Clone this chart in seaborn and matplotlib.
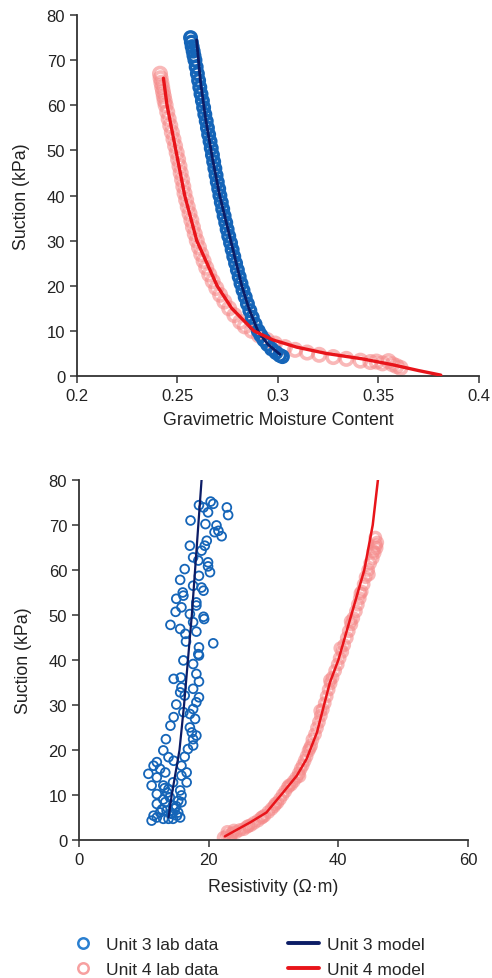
import matplotlib
matplotlib.use("Agg")
import matplotlib.pyplot as plt
import seaborn as sns
from matplotlib.lines import Line2D

# --- top panel: suction vs gravimetric moisture content ---
u3_lab_s = [75.0, 74.0, 73.0, 72.0, 71.0, 70.0, 68.5, 67.0, 65.5, 64.0,
            62.5, 61.0, 59.5, 58.0, 56.5, 55.0, 53.5, 52.0, 50.5, 49.0,
            47.5, 46.0, 44.5, 43.0, 41.5, 40.0, 38.5, 37.0, 35.5, 34.0,
            32.5, 31.0, 29.5, 28.0, 26.5, 25.0, 23.5, 22.0, 20.5, 19.0,
            17.5, 16.0, 14.5, 13.0, 11.5, 10.0, 9.0, 8.0, 7.0, 6.0,
            5.2, 4.6, 4.3]
u3_lab_w = [0.2565, 0.2569, 0.2573, 0.2578, 0.2582, 0.2587, 0.2593, 0.2599, 0.2605, 0.2611,
            0.2617, 0.2624, 0.2630, 0.2636, 0.2643, 0.2649, 0.2655, 0.2662, 0.2668, 0.2674,
            0.2680, 0.2686, 0.2692, 0.2698, 0.2705, 0.2711, 0.2718, 0.2725, 0.2732, 0.2740,
            0.2747, 0.2755, 0.2764, 0.2772, 0.2780, 0.2789, 0.2798, 0.2807, 0.2816, 0.2826,
            0.2837, 0.2848, 0.2860, 0.2872, 0.2886, 0.2902, 0.2915, 0.2930, 0.2948, 0.2968,
            0.2990, 0.3008, 0.3022]

u4_lab_s = [67.0, 66.0, 65.0, 64.0, 63.0, 62.0, 61.0, 60.0, 58.5, 57.0,
            55.5, 54.0, 52.5, 51.0, 49.5, 48.0, 46.5, 45.0, 43.5, 42.0,
            40.5, 39.0, 37.5, 36.0, 34.5, 33.0, 31.5, 30.0, 28.5, 27.0,
            25.5, 24.0, 22.5, 21.0, 19.5, 18.0, 16.5, 15.0, 13.5, 12.0,
            11.0, 10.0, 9.0, 8.0, 7.2, 6.4, 5.8, 5.2, 4.7, 4.2,
            3.8, 3.4, 3.1, 3.2, 2.8, 3.3, 2.6, 2.2, 1.8]
u4_lab_w = [0.2413, 0.2416, 0.2420, 0.2424, 0.2428, 0.2432, 0.2436, 0.2441, 0.2449, 0.2456,
            0.2464, 0.2472, 0.2480, 0.2488, 0.2496, 0.2503, 0.2510, 0.2516, 0.2523, 0.2529,
            0.2535, 0.2543, 0.2551, 0.2560, 0.2569, 0.2577, 0.2586, 0.2596, 0.2607, 0.2618,
            0.2630, 0.2643, 0.2658, 0.2675, 0.2693, 0.2712, 0.2733, 0.2757, 0.2783, 0.2812,
            0.2835, 0.2870, 0.2905, 0.2945, 0.2985, 0.3035, 0.3085, 0.3145, 0.3205, 0.3275,
            0.3340, 0.3410, 0.3460, 0.3490, 0.3520, 0.3550, 0.3570, 0.3590, 0.3610]

u3_mod_w = [0.2595, 0.2615, 0.2640, 0.2675, 0.2710, 0.2765, 0.2820, 0.2855, 0.2900, 0.2950, 0.3010]
u3_mod_s = [74.5, 65.0, 57.0, 48.0, 40.0, 30.0, 20.0, 15.0, 10.0, 7.0, 4.8]

u4_mod_w = [0.2430, 0.2448, 0.2492, 0.2536, 0.2596, 0.2697, 0.2770, 0.2880, 0.2975, 0.3093,
            0.3240, 0.3420, 0.3570, 0.3700, 0.3810]
u4_mod_s = [66.0, 60.0, 50.0, 40.0, 30.0, 20.0, 15.0, 10.0, 8.0, 6.4, 5.0, 3.8, 2.5, 1.2, 0.2]

# --- bottom panel: suction vs resistivity ---
u3_lab_r = [22.8, 23.0, 20.3, 20.7, 18.5, 19.2, 19.9, 17.2, 19.5, 21.2,
            21.5, 20.9, 22.0, 19.7, 19.4, 17.1, 18.9, 17.6, 18.4, 19.9,
            19.9, 20.2, 16.3, 18.5, 15.6, 17.6, 18.9, 19.2, 16.0, 16.1,
            15.0, 18.1, 15.8, 18.1, 14.9, 17.1, 19.2, 19.3, 17.6, 14.1,
            15.6, 18.1, 16.4, 20.7, 16.5, 18.5, 18.5, 18.4, 16.1, 17.6,
            18.1, 14.6, 15.7, 18.5, 15.8, 17.6, 15.6, 16.3, 18.5, 15.0,
            18.1, 17.6, 16.1, 17.1, 17.9, 14.6, 14.1, 17.1, 17.4, 18.1,
            17.6, 13.4, 17.6, 16.8, 16.3, 13.0, 13.8, 14.6, 12.0, 15.8,
            11.5, 12.5, 13.3, 10.7, 16.6, 16.6, 15.8, 12.0, 11.2, 13.0,
            14.5, 13.8, 12.0, 15.6, 15.8, 15.3, 12.0, 13.3, 14.5, 15.8,
            12.5, 13.5, 14.3, 15.3, 15.1, 11.5, 12.0, 11.2, 13.0, 13.8,
            15.6, 14.5, 13.0, 14.0, 14.8, 12.8, 13.6, 14.2, 15.0, 13.2]
u3_lab_s2 = [73.9, 72.2, 75.2, 74.7, 74.4, 73.9, 72.8, 71.0, 70.2, 69.9,
             68.7, 68.4, 67.5, 66.5, 65.4, 65.4, 64.3, 62.8, 62.1, 61.7,
             60.8, 59.5, 60.2, 58.7, 57.8, 56.5, 56.1, 55.4, 55.0, 54.3,
             53.6, 52.8, 51.7, 52.1, 50.7, 50.2, 49.6, 49.1, 48.4, 47.8,
             46.9, 46.3, 45.8, 43.7, 44.1, 42.8, 41.0, 41.3, 39.9, 39.1,
             36.9, 35.8, 36.1, 35.2, 33.9, 33.6, 32.8, 32.1, 31.7, 30.1,
             30.6, 29.1, 28.4, 28.0, 26.9, 27.3, 25.4, 25.0, 23.9, 23.2,
             22.4, 22.4, 21.0, 20.2, 18.5, 19.9, 18.4, 17.6, 17.3, 16.5,
             16.5, 15.8, 15.0, 14.7, 15.0, 12.8, 14.3, 13.9, 12.1, 12.1,
             12.8, 11.3, 10.2, 11.0, 9.9, 8.7, 8.0, 8.4, 7.6, 8.4,
             6.1, 6.5, 5.8, 6.1, 5.4, 5.4, 5.0, 4.3, 4.7, 4.7,
             5.0, 4.7, 9.0, 9.5, 7.0, 6.8, 10.5, 6.0, 7.5, 11.5]

u4_lab_r = [22.3, 22.8, 23.3, 23.6, 22.9, 24.2, 24.8, 25.4, 25.9, 26.5,
            27.0, 27.6, 28.1, 28.6, 29.2, 29.7, 30.1, 30.6, 31.0, 31.4,
            31.8, 32.2, 32.7, 33.1, 33.5, 33.9, 34.2, 34.5, 34.8, 35.1,
            35.4, 35.8, 36.0, 36.4, 36.7, 37.0, 37.3, 37.6, 37.9, 38.2,
            38.5, 38.8, 39.1, 39.5, 39.9, 40.2, 40.6, 40.9, 41.3, 41.6,
            42.0, 42.3, 42.7, 43.0, 43.3, 43.6, 43.9, 44.2, 44.6, 44.9,
            45.3, 45.6, 45.9, 46.0, 45.7, 45.8, 45.4, 44.7, 43.4, 41.9,
            40.3, 38.7, 37.2, 35.6, 34.0, 32.4, 30.3, 28.3, 26.1, 23.9]
u4_lab_s2 = [0.5, 0.9, 0.6, 1.4, 1.8, 1.7, 2.2, 2.4, 2.9, 3.3,
             3.8, 4.3, 4.9, 5.4, 6.2, 6.9, 7.5, 8.3, 9.1, 10.0,
             10.8, 11.7, 12.3, 13.0, 13.8, 14.8, 15.8, 16.6, 17.6, 18.6,
             19.8, 21.0, 22.3, 23.5, 24.9, 26.2, 27.6, 29.0, 30.4, 31.9,
             33.4, 34.8, 36.1, 37.6, 39.0, 40.4, 41.8, 43.3, 44.9, 46.4,
             47.9, 49.3, 50.8, 52.3, 53.7, 55.2, 56.8, 58.4, 60.0, 61.5,
             62.6, 63.8, 64.9, 66.1, 67.2, 65.5, 64.2, 59.0, 54.8, 48.6,
             42.6, 35.5, 28.7, 20.4, 14.2, 12.1, 8.0, 5.1, 3.1, 2.1]

u3_mod_r = [13.8, 14.3, 15.5, 16.2, 16.8, 17.4, 17.9, 18.4, 18.9]
u3_mod_s2 = [5.0, 10.0, 20.0, 30.0, 40.0, 50.0, 60.0, 70.0, 80.0]

u4_mod_r = [22.5, 24.0, 26.4, 28.9, 31.5, 33.6, 35.1, 36.7, 37.9, 38.7, 40.0, 42.0, 44.0, 45.3, 46.1]
u4_mod_s2 = [0.8, 2.0, 3.9, 6.1, 10.6, 14.3, 18.0, 23.9, 30.6, 35.0, 40.0, 50.0, 60.0, 70.0, 80.0]

blue_pt = "#1565b8"
navy = "#0c1d66"
pink = "#f58a8a"
red = "#e8141a"

sns.set_style("ticks")
plt.rcParams['font.family'] = ['Liberation Sans', 'DejaVu Sans']
plt.rcParams['axes.edgecolor'] = '#333333'
plt.rcParams['xtick.color'] = '#333333'
plt.rcParams['ytick.color'] = '#333333'

fig = plt.figure(figsize=(4.92, 9.79), dpi=100)
ax1 = fig.add_axes([0.1565, 0.6149, 0.817, 0.3687])
ax2 = fig.add_axes([0.1606, 0.141, 0.7907, 0.3677])

# top panel
sns.scatterplot(x=u4_lab_w, y=u4_lab_s, ax=ax1, s=80, marker='o', facecolor='none',
                edgecolor=pink, linewidth=2.6, alpha=0.6, zorder=2)
sns.scatterplot(x=u3_lab_w, y=u3_lab_s, ax=ax1, s=70, marker='o', facecolor='none',
                edgecolor=blue_pt, linewidth=2.4, zorder=3)
sns.lineplot(x=u3_mod_w, y=u3_mod_s, ax=ax1, sort=False, estimator=None, color=navy, linewidth=2, zorder=4)
sns.lineplot(x=u4_mod_w, y=u4_mod_s, ax=ax1, sort=False, estimator=None, color=red, linewidth=2.4, zorder=5)

ax1.set_xlim(0.2, 0.4)
ax1.set_ylim(0, 80)
ax1.set_xticks([0.2, 0.25, 0.3, 0.35, 0.4])
ax1.set_xticklabels(["0.2", "0.25", "0.3", "0.35", "0.4"])
ax1.set_yticks(range(0, 81, 10))
ax1.set_xlabel("Gravimetric Moisture Content", fontsize=12.8, color='#222222', labelpad=6)
ax1.set_ylabel("Suction (kPa)", fontsize=12.8, color='#222222', labelpad=12)

# bottom panel
sns.scatterplot(x=u4_lab_r, y=u4_lab_s2, ax=ax2, s=55, marker='o', facecolor='none',
                edgecolor=pink, linewidth=2.5, alpha=0.6, zorder=2)
sns.scatterplot(x=u3_lab_r, y=u3_lab_s2, ax=ax2, s=40, marker='o', facecolor='none',
                edgecolor=blue_pt, linewidth=1.3, zorder=3)
sns.lineplot(x=u3_mod_r, y=u3_mod_s2, ax=ax2, sort=False, estimator=None, color=navy, linewidth=1.6, zorder=4)
sns.lineplot(x=u4_mod_r, y=u4_mod_s2, ax=ax2, sort=False, estimator=None, color=red, linewidth=1.8, zorder=5)

ax2.set_xlim(0, 60)
ax2.set_ylim(0, 80)
ax2.set_xticks([0, 20, 40, 60])
ax2.set_yticks(range(0, 81, 10))
ax2.set_xlabel("Resistivity (Ω·m)", fontsize=12.8, color='#222222', labelpad=8)
ax2.set_ylabel("Suction (kPa)", fontsize=12.8, color='#222222', labelpad=12)

for ax in (ax1, ax2):
    sns.despine(ax=ax)
    ax.spines['left'].set_linewidth(1.3)
    ax.spines['bottom'].set_linewidth(1.3)
    ax.tick_params(labelsize=12, length=5, width=1.1, labelcolor='#222222')
    ax.grid(False)

handles = [
    Line2D([], [], marker='o', linestyle='none', markerfacecolor='none', markeredgecolor='#2a7fd0',
           markeredgewidth=1.8, markersize=7.5),
    Line2D([], [], marker='o', linestyle='none', markerfacecolor='none', markeredgecolor='#f7a0a0',
           markeredgewidth=1.8, markersize=7.5),
    Line2D([], [], color=navy, linewidth=2.8),
    Line2D([], [], color=red, linewidth=2.8),
]
labels = ["Unit 3 lab data", "Unit 4 lab data", "Unit 3 model", "Unit 4 model"]
fig.legend(handles, labels, ncol=2, frameon=False, fontsize=12.5, loc='upper left',
           bbox_to_anchor=(0.105, 0.058), handlelength=1.8, columnspacing=4.0,
           labelspacing=0.55, handletextpad=0.45)

fig.savefig("out.png", dpi=100)
